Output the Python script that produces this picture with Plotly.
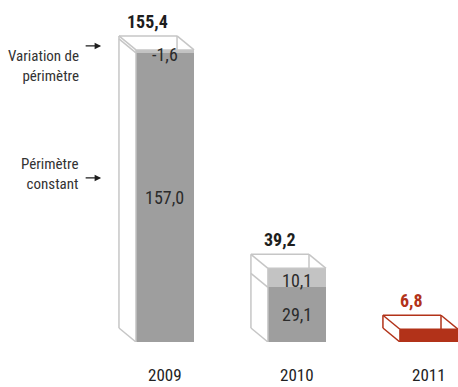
import plotly.graph_objects as go

# ---- data ----
years = ["2009", "2010", "2011"]
constant = [157.0, 29.1, None]      # Périmètre constant
variation = [-1.6, 10.1, None]      # Variation de périmètre
totals = [155.4, 39.2, 6.8]

# ---- styling / layout constants ----
W, H = 458, 387
L, R, TOP, BOT = 99, 458, 30, 342
XR = [-0.5, 2.22]
YR = [0, 166]
XPX = (R - L) / (XR[1] - XR[0])
YPX = (BOT - TOP) / (YR[1] - YR[0])
DX = 17 / XPX      # depth offset (data units)
DY = 14 / YPX
BW = 0.44
HW = BW / 2

DARK = "#9e9e9e"
LIGHT = "#c3c3c3"
EDGE = "#c6c6c6"
RED = "#b23219"
TXT = "#2b2b2b"
FONT = "Liberation Sans Narrow, Arial Narrow, Roboto Condensed, sans-serif"


def fmt(v):
    return f"{v:.1f}".replace(".", ",")


xs = list(range(len(years)))
stack_idx = [i for i in xs if constant[i] is not None]
single_idx = [i for i in xs if constant[i] is None]
dark_vals = [totals[i] - abs(variation[i]) for i in stack_idx]
light_vals = [abs(variation[i]) for i in stack_idx]

fig = go.Figure()
fig.add_trace(go.Bar(x=stack_idx, y=dark_vals, width=BW, marker=dict(color=DARK, line=dict(width=0)),
                     hoverinfo="skip", showlegend=False))
fig.add_trace(go.Bar(x=stack_idx, y=light_vals, width=BW, marker=dict(color=LIGHT, line=dict(width=0)),
                     hoverinfo="skip", showlegend=False))
fig.add_trace(go.Bar(x=single_idx, y=[totals[i] for i in single_idx], width=BW,
                     marker=dict(color=RED, line=dict(width=0)), hoverinfo="skip", showlegend=False))


def box_lines(i):
    c, t = i, totals[i]
    xl, xr = c - HW, c + HW
    segs = [
        [(xl - DX, t + DY), (xr - DX, t + DY)],          # back top edge
        [(xl - DX, DY), (xl - DX, t + DY)],              # back left edge
        [(xr - DX, t + DY), (xr - DX, t)],               # back right edge (visible part)
        [(xl - DX, t + DY), (xl, t)],                    # top-left diagonal
        [(xr - DX, t + DY), (xr, t)],                    # top-right diagonal
        [(xl - DX, DY), (xl, 0)],                        # bottom-left diagonal
        [(xl, 0), (xl, t)],                              # front left edge
        [(xl, t), (xr, t)],                              # front top edge
    ]
    if constant[i] is not None:
        b = t - abs(variation[i])
        segs.append([(xl - DX, b + DY), (xl, b)])
    lx, ly = [], []
    for s in segs:
        for p in s:
            lx.append(p[0]); ly.append(p[1])
        lx.append(None); ly.append(None)
    return lx, ly


for i in xs:
    lx, ly = box_lines(i)
    col = RED if constant[i] is None else EDGE
    fig.add_trace(go.Scatter(x=lx, y=ly, mode="lines", line=dict(color=col, width=1.5),
                             hoverinfo="skip", showlegend=False))

ann = []
# segment labels
for k, i in enumerate(stack_idx):
    ann.append(dict(x=i, y=dark_vals[k] / 2, text=fmt(constant[i]), showarrow=False,
                    font=dict(family=FONT, size=18, color=TXT), xref="x", yref="y"))
    ann.append(dict(x=i, y=dark_vals[k] + light_vals[k] / 2, text=fmt(variation[i]), showarrow=False,
                    yshift=-3, font=dict(family=FONT, size=18, color=TXT), xref="x", yref="y"))
# totals
for i in xs:
    col = RED if constant[i] is None else "#1e1e1e"
    ann.append(dict(x=i - DX, y=totals[i] + DY, text="<b>" + fmt(totals[i]) + "</b>", showarrow=False,
                    yanchor="bottom", yshift=2, font=dict(family=FONT, size=18, color=col),
                    xref="x", yref="y"))
# year labels
for i in xs:
    ann.append(dict(x=i, y=-0.1058, xref="x", yref="paper", text=years[i], showarrow=False,
                    yanchor="middle", font=dict(family=FONT, size=17, color="#222222")))
# side legend labels
ann.append(dict(x=-0.05, y=0.952, xref="paper", yref="paper", xanchor="right", align="right",
                text="Variation de<br>périmètre", showarrow=False,
                font=dict(family=FONT, size=15, color="#333333")))
ann.append(dict(x=-0.05, y=0.538, xref="paper", yref="paper", xanchor="right", align="right",
                text="Périmètre<br>constant", showarrow=False,
                font=dict(family=FONT, size=15, color="#333333")))
for yy in (0.949, 0.526):
    ann.append(dict(x=0.006, y=yy, xref="paper", yref="paper", text="", showarrow=True,
                    ax=-17, ay=0, arrowhead=2, arrowsize=1, arrowwidth=1.3, arrowcolor="#1e1e1e",
                    standoff=0))

fig.update_layout(
    width=W, height=H,
    margin=dict(l=L, r=W - R, t=TOP, b=H - BOT, pad=0),
    barmode="stack", bargap=0,
    plot_bgcolor="white", paper_bgcolor="white",
    xaxis=dict(range=XR, visible=False, fixedrange=True),
    yaxis=dict(range=YR, visible=False, fixedrange=True),
    annotations=ann,
)

fig.write_html("out.html")
